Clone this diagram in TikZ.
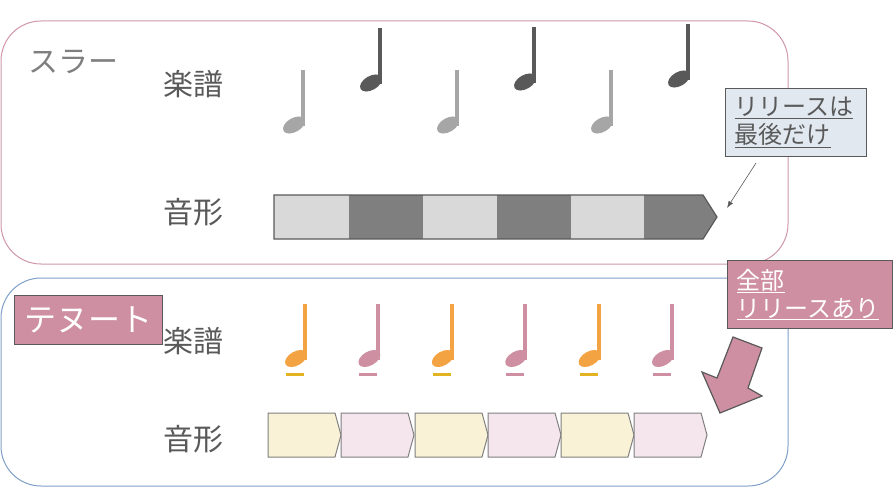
\documentclass[tikz,border=0pt]{standalone}
\usepackage{fontspec}
\newfontfamily\jpfont{Noto Sans CJK JP}
\usetikzlibrary{arrows.meta}
\definecolor{framepink}{HTML}{D096AA}
\definecolor{frameblue}{HTML}{7F9FC8}
\definecolor{textgray}{HTML}{595959}
\definecolor{titlegray}{HTML}{7F7F7F}
\definecolor{notelight}{HTML}{A6A6A6}
\definecolor{notedark}{HTML}{595959}
\definecolor{barlight}{HTML}{D9D9D9}
\definecolor{bardark}{HTML}{7F7F7F}
\definecolor{calloutblue}{HTML}{E1E8F0}
\definecolor{tenutopink}{HTML}{CE8FA3}
\definecolor{noteorange}{HTML}{F4A343}
\definecolor{linegold}{HTML}{E2B424}
\definecolor{chevcream}{HTML}{FAF2D6}
\definecolor{chevpink}{HTML}{F4E6EC}
\tikzset{
    pics/quarter note/.style={
        code={
            \fill[#1,rotate=30] (0,0) ellipse (12 and 7);
            \fill[#1] (7,1) rectangle (11,-55);
        }
    },
    pics/tenuto note/.style 2 args={
        code={
            \fill[#1,rotate=30] (0,0) ellipse (12 and 7);
            \fill[#1] (7,1) rectangle (11,-55);
            \fill[#2] (-10,14.5) rectangle (8,17.5);
        }
    },
    pics/chevron/.style={
        code={
            \draw[bardark,line width=1pt,fill=#1] (0,0) -- (67,0) -- (73,22) -- (67,44) -- (0,44) -- cycle;
        }
    },
    big text/.style={font=\jpfont\fontsize{30pt}{36pt}\selectfont,text=textgray,inner sep=0pt},
    callout box/.style={draw=textgray,line width=1pt,anchor=north west,align=left,
        font=\jpfont\fontsize{24pt}{28pt}\selectfont,inner xsep=9pt,text width=123pt}
}
\begin{document}
\begin{tikzpicture}[x=1pt,y=-1pt]
\useasboundingbox (0,0) rectangle (895,487);

% ========= Frames =========
\draw[framepink,line width=1pt,rounded corners=40pt] (1,21) rectangle (788,264);
\draw[frameblue,line width=1pt,rounded corners=40pt] (1,278) rectangle (788,486);

% ========= Slur =========
\node[big text,text=titlegray,anchor=west] (slur title) at (28,62) {スラー};
\node[big text,anchor=west] (slur score) at (163,84) {楽譜};
\node[big text,anchor=west] (slur wave) at (163,212) {音形};

% notes
\foreach \x in {0,2,4}
    \pic at (294+77*\x,125) {quarter note=notelight};
\pic at (371,83) {quarter note=notedark};
\pic at (525,82) {quarter note=notedark};
\pic at (679,79) {quarter note=notedark};

% waveform
\foreach \x in {274,423,570}
    \fill[barlight] (\x,195) rectangle ++(75,44);
\foreach \x in {349,497}
    \fill[bardark] (\x,195) rectangle ++(74,44);
\fill[bardark] (644,195) -- (703,195) -- (717,217) -- (703,239) -- (644,239) -- cycle;
\draw[textgray,line width=1.2pt] (274,195) -- (703,195) -- (717,217) -- (703,239) -- (274,239) -- cycle;
\coordinate (release target) at (727,208);

% == callout ==%
\node[callout box,fill=calloutblue,text=textgray,minimum width=141pt,minimum height=68pt] (release last) at (725,88)
    {\underline{リリースは}\\\underline{最後だけ}};
\draw[-{Latex[length=7pt,width=5pt]},textgray,line width=0.6pt] ([xshift=-40pt,yshift=-6pt]release last.south) -- (release target);

% ========= Tenuto =========
\node[big text,fill=tenutopink,draw=textgray,line width=1pt,text=white,anchor=north west,
    minimum width=148pt,minimum height=49pt,font=\jpfont\fontsize{32pt}{36pt}\selectfont] (tenuto title) at (14,295) {テヌート};
\node[big text,anchor=west] (tenuto score) at (163,341) {楽譜};
\node[big text,anchor=west] (tenuto wave) at (163,439) {音形};

% notes
\foreach \x/\c/\l in {0/noteorange/linegold,1/tenutopink/tenutopink,2/noteorange/linegold,
    3/tenutopink/tenutopink,4/noteorange/linegold,5/tenutopink/tenutopink}
    \pic at (296+73.4*\x,358.5) {tenuto note={\c}{\l}};

% waveform
\foreach \x/\c in {268/chevcream,341/chevpink,415/chevcream,488/chevpink,561/chevcream,634/chevpink}
    \pic at (\x,413) {chevron=\c};

% == callout ==%
\node[callout box,fill=tenutopink,text=white,minimum width=165pt,minimum height=68pt,text width=147pt] (release all) at (727,260)
    {\underline{全部}\\\underline{リリースあり}};
\draw[textgray,line width=1.2pt,fill=tenutopink] (733,337) -- (762,348) -- (748,388) -- (762,396)
    -- (720,413) -- (702,372) -- (717,378) -- cycle;

\end{tikzpicture}
\end{document}
